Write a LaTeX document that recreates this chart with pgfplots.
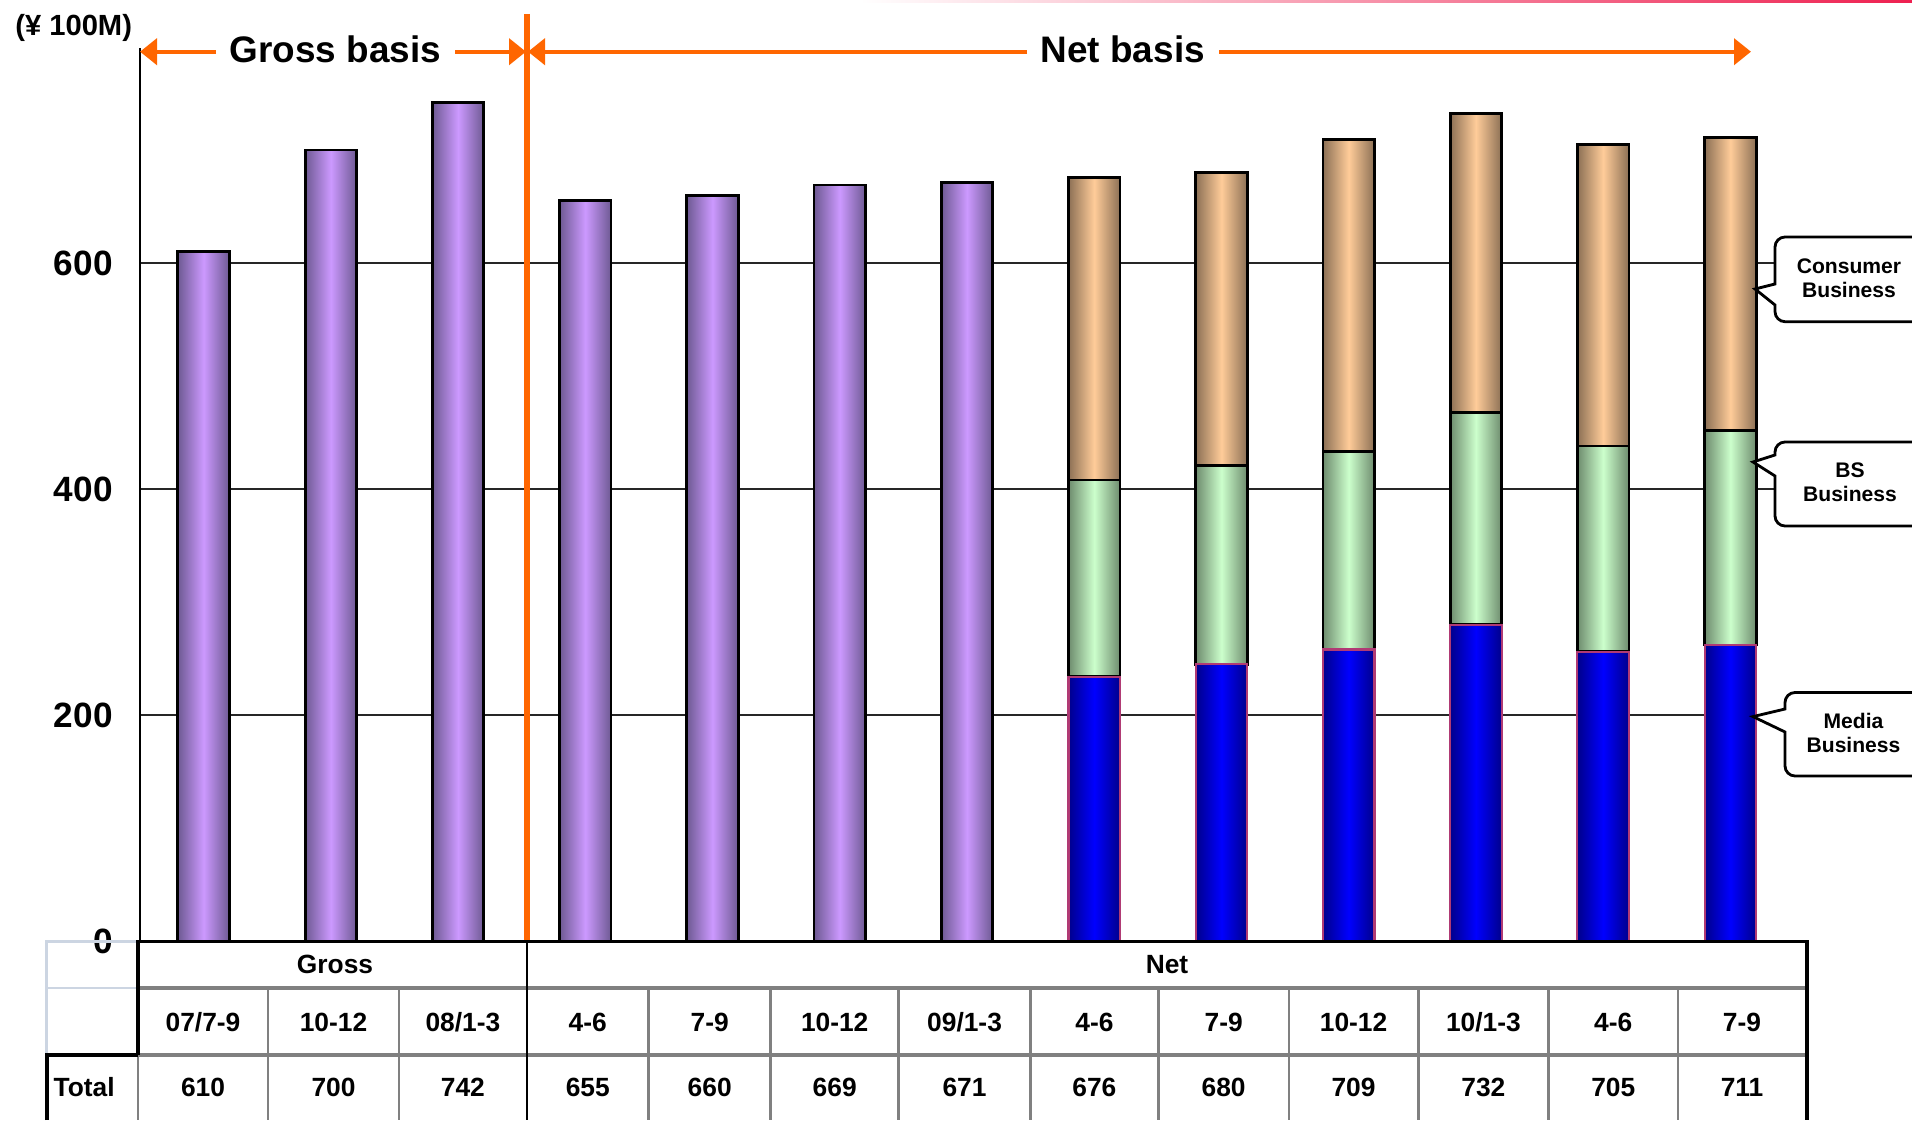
\documentclass[border=0pt]{standalone}
\usepackage{pgfplots}
\pgfplotsset{compat=1.18}
\usepackage{fontspec}
\setmainfont{Liberation Sans}
\usetikzlibrary{arrows.meta}

\definecolor{gbar}{HTML}{CC99FF}
\definecolor{gbaredge}{HTML}{6E5A93}
\definecolor{cons}{HTML}{FFCC99}
\definecolor{consedge}{HTML}{8C7055}
\definecolor{bsc}{HTML}{CCFFCC}
\definecolor{bsedge}{HTML}{6E8C6E}
\definecolor{media}{HTML}{0000FF}
\definecolor{mediaedge}{HTML}{00008C}
\definecolor{medialine}{HTML}{B03A74}
\definecolor{basis}{HTML}{FF6600}
\definecolor{tgrey}{HTML}{808080}
\definecolor{tpale}{HTML}{CCD5E2}
\definecolor{topred}{HTML}{EE2050}

\pgfplotsset{
  base/.style={
    scale only axis, width=165.4mm, height=89.27mm,
    xmin=-0.5, xmax=12.5, ymin=0, ymax=790,
    bar width=5.15mm,
    at={(14mm,-94.1mm)}, anchor=south west,
    clip=false,
  },
  totalbar/.style={ybar, bar shift=0pt, draw=black, line width=0.8pt,
    left color=gbaredge, right color=gbaredge, middle color=gbar},
  mediabar/.style={draw=medialine, line width=0.6pt,
    left color=mediaedge, right color=mediaedge, middle color=media},
  bsbar/.style={draw=black, line width=0.8pt,
    left color=bsedge, right color=bsedge, middle color=bsc},
  consbar/.style={draw=black, line width=0.8pt,
    left color=consedge, right color=consedge, middle color=cons},
}
% one stacked column (own axis, so each bar gets its own shading)
% #1 position, #2 Media, #3 BS, #4 Consumer
\newcommand{\segcol}[4]{%
  \begin{axis}[base, hide axis, ybar stacked]
    \addplot[mediabar] coordinates {(#1,#2)};
    \addplot[bsbar] coordinates {(#1,#3)};
    \addplot[consbar] coordinates {(#1,#4)};
  \end{axis}}

\tikzset{
  tcell/.style={font=\bfseries\fontsize{7.5}{9}\selectfont, anchor=base, inner sep=0pt},
  callout/.style={font=\bfseries\fontsize{6}{6.9}\selectfont, align=center, inner sep=0pt},
}

\begin{document}
\begin{tikzpicture}
\begin{scope}[x=0.1mm, y=-0.1mm]
  \useasboundingbox (0,0) rectangle (1912,1120);
  \shade[left color=white, right color=topred] (860,0) rectangle (1912,2.5);
\end{scope}

% totals (100M yen), grid and value axis
\begin{axis}[base,
  axis x line=none, axis y line*=left,
  y axis line style={black, line width=0.6pt},
  ytick={0,200,400,600}, ymajorgrids,
  major grid style={black!85, line width=0.5pt},
  major tick length=0pt,
  /pgf/number format/assume math mode=true,
  yticklabel style={font=\bfseries\fontsize{10}{12}\selectfont, anchor=east, inner sep=0pt, xshift=-2.67mm},
]
\addplot[totalbar] coordinates {(0,610)};
\addplot[totalbar] coordinates {(1,700)};
\addplot[totalbar] coordinates {(2,742)};
\addplot[totalbar] coordinates {(3,655)};
\addplot[totalbar] coordinates {(4,660)};
\addplot[totalbar] coordinates {(5,669)};
\addplot[totalbar] coordinates {(6,671)};
\end{axis}

% business segments: Media, BS, Consumer
\segcol{7}{234}{174}{268}
\segcol{8}{245}{176}{259}
\segcol{9}{258}{175}{276}
\segcol{10}{280}{188}{264}
\segcol{11}{256}{182}{267}
\segcol{12}{262}{190}{259}

\begin{scope}[x=0.1mm, y=-0.1mm]
  % unit
  \node[anchor=base west, inner sep=0pt, font=\bfseries\fontsize{8.3}{10}\selectfont] at (14.6,35.7) {(¥ 100M)};

  % gross / net divider and basis arrows
  \draw[basis, line width=1.7pt] (527,14) -- (527,941);
  \begin{scope}[basis, line width=1.2pt]
    \draw[-{Triangle[length=1.7mm, width=2.6mm]}] (216,51.7) -- (140,51.7);
    \draw[-{Triangle[length=1.7mm, width=2.6mm]}] (455,51.7) -- (526,51.7);
    \draw[-{Triangle[length=1.7mm, width=2.6mm]}] (1027,51.7) -- (528,51.7);
    \draw[-{Triangle[length=1.7mm, width=2.6mm]}] (1219,51.7) -- (1751,51.7);
  \end{scope}
  \node[anchor=base, inner sep=0pt, font=\bfseries\fontsize{10.5}{12}\selectfont] at (335.3,62.3) {Gross basis};
  \node[anchor=base, inner sep=0pt, font=\bfseries\fontsize{10.5}{12}\selectfont] at (1122.8,62.3) {Net basis};

  % data table rules
  \draw[tpale, line width=0.8pt] (46.7,1055) -- (46.7,941.7) -- (138,941.7);
  \draw[tpale, line width=0.8pt] (46.7,988) -- (138,988);
  \draw[tgrey, line width=0.95pt] (138,988) -- (1807,988);
  \draw[tgrey, line width=0.95pt] (138,1055) -- (1807,1055);
  \foreach \b in {268,399,648.7,770.7,898.7,1030.4,1158.4,1288.9,1418.2,1548.6,1677.9}
    \draw[tgrey, line width=0.8pt] (\b,988) -- (\b,1120);
  \draw[tgrey, line width=0.8pt] (138,1055) -- (138,1120);
  \draw[black, line width=0.9pt] (138,1055) -- (138,941.7) -- (1807,941.7) -- (1807,1120);
  \draw[black, line width=1.1pt] (46.7,1120) -- (46.7,1055) -- (138,1055);
  \draw[black, line width=0.7pt] (526.8,941.7) -- (526.8,1120);

  % table text
  \node[tcell] at (335,973.3) {Gross};
  \node[tcell] at (1167,973.3) {Net};
  \node[tcell, anchor=base west] at (53,1096.7) {Total};

  \node[tcell] at (203,1031.7) {07/7-9};
  \node[tcell] at (333.5,1031.7) {10-12};
  \node[tcell] at (462.9,1031.7) {08/1-3};
  \node[tcell] at (587.75,1031.7) {4-6};
  \node[tcell] at (709.7,1031.7) {7-9};
  \node[tcell] at (834.7,1031.7) {10-12};
  \node[tcell] at (964.55,1031.7) {09/1-3};
  \node[tcell] at (1094.4,1031.7) {4-6};
  \node[tcell] at (1223.65,1031.7) {7-9};
  \node[tcell] at (1353.55,1031.7) {10-12};
  \node[tcell] at (1483.4,1031.7) {10/1-3};
  \node[tcell] at (1613.25,1031.7) {4-6};
  \node[tcell] at (1742,1031.7) {7-9};

  \node[tcell] at (203,1096.7) {610};
  \node[tcell] at (333.5,1096.7) {700};
  \node[tcell] at (462.9,1096.7) {742};
  \node[tcell] at (587.75,1096.7) {655};
  \node[tcell] at (709.7,1096.7) {660};
  \node[tcell] at (834.7,1096.7) {669};
  \node[tcell] at (964.55,1096.7) {671};
  \node[tcell] at (1094.4,1096.7) {676};
  \node[tcell] at (1223.65,1096.7) {680};
  \node[tcell] at (1353.55,1096.7) {709};
  \node[tcell] at (1483.4,1096.7) {732};
  \node[tcell] at (1613.25,1096.7) {705};
  \node[tcell] at (1742,1096.7) {711};
\end{scope}

% segment callouts
\begin{scope}[x=0.1mm, y=-0.1mm]
  \clip (0,0) rectangle (1912,1120);
  \draw[line width=0.8pt, fill=white]
    (1960,237) -- (1785,237) .. controls (1779.5,237) and (1775,241.5) .. (1775,247)
    -- (1775,284) -- (1755,289) -- (1775,305) -- (1775,311.7)
    .. controls (1775,317.2) and (1779.5,321.7) .. (1785,321.7) -- (1960,321.7);
  \node[callout] at (1849,278) {Consumer\\Business};

  \draw[line width=0.8pt, fill=white]
    (1960,442) -- (1785,442) .. controls (1779.5,442) and (1775,446.5) .. (1775,452)
    -- (1775,455) -- (1753,462) -- (1775,476) -- (1775,516)
    .. controls (1775,521.5) and (1779.5,526) .. (1785,526) -- (1960,526);
  \node[callout] at (1850,482) {BS\\Business};

  \draw[line width=0.8pt, fill=white]
    (1960,692.5) -- (1795,692.5) .. controls (1789.5,692.5) and (1785,697) .. (1785,702.5)
    -- (1785,709) -- (1753,716.6) -- (1785,732) -- (1785,766)
    .. controls (1785,771.5) and (1789.5,776) .. (1795,776) -- (1960,776);
  \node[callout] at (1853.5,733) {Media\\Business};
\end{scope}
\end{tikzpicture}
\end{document}
